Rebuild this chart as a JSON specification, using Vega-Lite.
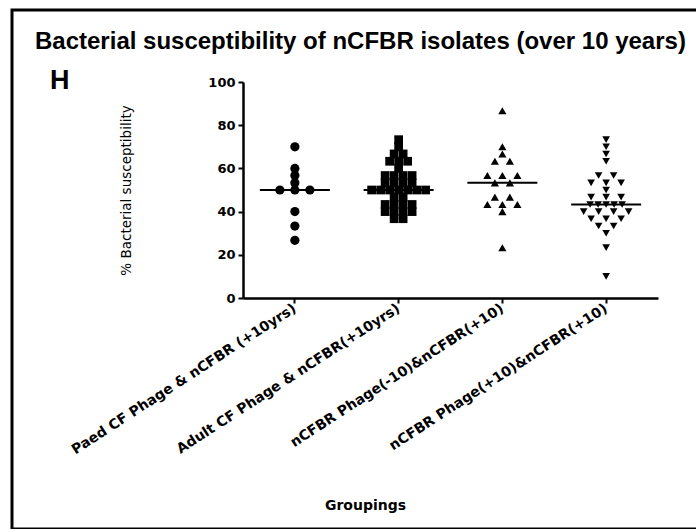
{
  "$schema": "https://vega.github.io/schema/vega-lite/v6.json",
  "autosize": "none",
  "padding": {"left": 12, "top": 10, "right": 0, "bottom": 0},
  "width": 700,
  "height": 519,
  "background": "white",
  "title": {
    "text": "Bacterial susceptibility of nCFBR isolates (over 10 years)",
    "subtitle": "\u200b\u00a0\u00a0H",
    "anchor": "start",
    "frame": "group",
    "dx": 23,
    "offset": -84,
    "font": "Liberation Sans",
    "fontSize": 24,
    "fontWeight": "bold",
    "color": "black",
    "subtitleFont": "Liberation Sans",
    "subtitleFontSize": 27,
    "subtitleFontWeight": "bold",
    "subtitleColor": "black",
    "subtitlePadding": 14
  },
  "config": {
    "view": {"stroke": "black", "strokeWidth": 3},
    "axis": {
      "domainColor": "black",
      "domainWidth": 2.5,
      "tickColor": "black",
      "tickWidth": 2,
      "tickSize": 5,
      "labelColor": "black",
      "titleColor": "black",
      "grid": false
    }
  },
  "data": {
    "values": [
      {"group": "Paed CF Phage & nCFBR (+10yrs)", "value": 70},
      {"group": "Paed CF Phage & nCFBR (+10yrs)", "value": 60},
      {"group": "Paed CF Phage & nCFBR (+10yrs)", "value": 56.7},
      {"group": "Paed CF Phage & nCFBR (+10yrs)", "value": 53.3},
      {"group": "Paed CF Phage & nCFBR (+10yrs)", "value": 50},
      {"group": "Paed CF Phage & nCFBR (+10yrs)", "value": 50},
      {"group": "Paed CF Phage & nCFBR (+10yrs)", "value": 50},
      {"group": "Paed CF Phage & nCFBR (+10yrs)", "value": 40},
      {"group": "Paed CF Phage & nCFBR (+10yrs)", "value": 33.3},
      {"group": "Paed CF Phage & nCFBR (+10yrs)", "value": 26.7},

      {"group": "Adult CF Phage & nCFBR(+10yrs)", "value": 73.3},
      {"group": "Adult CF Phage & nCFBR(+10yrs)", "value": 70},
      {"group": "Adult CF Phage & nCFBR(+10yrs)", "value": 66.7},
      {"group": "Adult CF Phage & nCFBR(+10yrs)", "value": 66.7},
      {"group": "Adult CF Phage & nCFBR(+10yrs)", "value": 63.3},
      {"group": "Adult CF Phage & nCFBR(+10yrs)", "value": 63.3},
      {"group": "Adult CF Phage & nCFBR(+10yrs)", "value": 63.3},
      {"group": "Adult CF Phage & nCFBR(+10yrs)", "value": 60},
      {"group": "Adult CF Phage & nCFBR(+10yrs)", "value": 56.7},
      {"group": "Adult CF Phage & nCFBR(+10yrs)", "value": 56.7},
      {"group": "Adult CF Phage & nCFBR(+10yrs)", "value": 56.7},
      {"group": "Adult CF Phage & nCFBR(+10yrs)", "value": 56.7},
      {"group": "Adult CF Phage & nCFBR(+10yrs)", "value": 53.3},
      {"group": "Adult CF Phage & nCFBR(+10yrs)", "value": 53.3},
      {"group": "Adult CF Phage & nCFBR(+10yrs)", "value": 53.3},
      {"group": "Adult CF Phage & nCFBR(+10yrs)", "value": 53.3},
      {"group": "Adult CF Phage & nCFBR(+10yrs)", "value": 50},
      {"group": "Adult CF Phage & nCFBR(+10yrs)", "value": 50},
      {"group": "Adult CF Phage & nCFBR(+10yrs)", "value": 50},
      {"group": "Adult CF Phage & nCFBR(+10yrs)", "value": 50},
      {"group": "Adult CF Phage & nCFBR(+10yrs)", "value": 50},
      {"group": "Adult CF Phage & nCFBR(+10yrs)", "value": 50},
      {"group": "Adult CF Phage & nCFBR(+10yrs)", "value": 50},
      {"group": "Adult CF Phage & nCFBR(+10yrs)", "value": 46.7},
      {"group": "Adult CF Phage & nCFBR(+10yrs)", "value": 46.7},
      {"group": "Adult CF Phage & nCFBR(+10yrs)", "value": 43.3},
      {"group": "Adult CF Phage & nCFBR(+10yrs)", "value": 43.3},
      {"group": "Adult CF Phage & nCFBR(+10yrs)", "value": 43.3},
      {"group": "Adult CF Phage & nCFBR(+10yrs)", "value": 43.3},
      {"group": "Adult CF Phage & nCFBR(+10yrs)", "value": 40},
      {"group": "Adult CF Phage & nCFBR(+10yrs)", "value": 40},
      {"group": "Adult CF Phage & nCFBR(+10yrs)", "value": 40},
      {"group": "Adult CF Phage & nCFBR(+10yrs)", "value": 40},
      {"group": "Adult CF Phage & nCFBR(+10yrs)", "value": 36.7},
      {"group": "Adult CF Phage & nCFBR(+10yrs)", "value": 36.7},

      {"group": "nCFBR Phage(-10)&nCFBR(+10)", "value": 86.7},
      {"group": "nCFBR Phage(-10)&nCFBR(+10)", "value": 70},
      {"group": "nCFBR Phage(-10)&nCFBR(+10)", "value": 66.7},
      {"group": "nCFBR Phage(-10)&nCFBR(+10)", "value": 63.3},
      {"group": "nCFBR Phage(-10)&nCFBR(+10)", "value": 63.3},
      {"group": "nCFBR Phage(-10)&nCFBR(+10)", "value": 56.7},
      {"group": "nCFBR Phage(-10)&nCFBR(+10)", "value": 56.7},
      {"group": "nCFBR Phage(-10)&nCFBR(+10)", "value": 56.7},
      {"group": "nCFBR Phage(-10)&nCFBR(+10)", "value": 53.3},
      {"group": "nCFBR Phage(-10)&nCFBR(+10)", "value": 53.3},
      {"group": "nCFBR Phage(-10)&nCFBR(+10)", "value": 46.7},
      {"group": "nCFBR Phage(-10)&nCFBR(+10)", "value": 46.7},
      {"group": "nCFBR Phage(-10)&nCFBR(+10)", "value": 43.3},
      {"group": "nCFBR Phage(-10)&nCFBR(+10)", "value": 43.3},
      {"group": "nCFBR Phage(-10)&nCFBR(+10)", "value": 43.3},
      {"group": "nCFBR Phage(-10)&nCFBR(+10)", "value": 40},
      {"group": "nCFBR Phage(-10)&nCFBR(+10)", "value": 23.3},

      {"group": "nCFBR Phage(+10)&nCFBR(+10)", "value": 73.3},
      {"group": "nCFBR Phage(+10)&nCFBR(+10)", "value": 70},
      {"group": "nCFBR Phage(+10)&nCFBR(+10)", "value": 66.7},
      {"group": "nCFBR Phage(+10)&nCFBR(+10)", "value": 63.3},
      {"group": "nCFBR Phage(+10)&nCFBR(+10)", "value": 56.7},
      {"group": "nCFBR Phage(+10)&nCFBR(+10)", "value": 56.7},
      {"group": "nCFBR Phage(+10)&nCFBR(+10)", "value": 53.3},
      {"group": "nCFBR Phage(+10)&nCFBR(+10)", "value": 53.3},
      {"group": "nCFBR Phage(+10)&nCFBR(+10)", "value": 53.3},
      {"group": "nCFBR Phage(+10)&nCFBR(+10)", "value": 50},
      {"group": "nCFBR Phage(+10)&nCFBR(+10)", "value": 46.7},
      {"group": "nCFBR Phage(+10)&nCFBR(+10)", "value": 46.7},
      {"group": "nCFBR Phage(+10)&nCFBR(+10)", "value": 46.7},
      {"group": "nCFBR Phage(+10)&nCFBR(+10)", "value": 43.3},
      {"group": "nCFBR Phage(+10)&nCFBR(+10)", "value": 43.3},
      {"group": "nCFBR Phage(+10)&nCFBR(+10)", "value": 43.3},
      {"group": "nCFBR Phage(+10)&nCFBR(+10)", "value": 43.3},
      {"group": "nCFBR Phage(+10)&nCFBR(+10)", "value": 43.3},
      {"group": "nCFBR Phage(+10)&nCFBR(+10)", "value": 40},
      {"group": "nCFBR Phage(+10)&nCFBR(+10)", "value": 40},
      {"group": "nCFBR Phage(+10)&nCFBR(+10)", "value": 40},
      {"group": "nCFBR Phage(+10)&nCFBR(+10)", "value": 40},
      {"group": "nCFBR Phage(+10)&nCFBR(+10)", "value": 36.7},
      {"group": "nCFBR Phage(+10)&nCFBR(+10)", "value": 36.7},
      {"group": "nCFBR Phage(+10)&nCFBR(+10)", "value": 36.7},
      {"group": "nCFBR Phage(+10)&nCFBR(+10)", "value": 33.3},
      {"group": "nCFBR Phage(+10)&nCFBR(+10)", "value": 33.3},
      {"group": "nCFBR Phage(+10)&nCFBR(+10)", "value": 30},
      {"group": "nCFBR Phage(+10)&nCFBR(+10)", "value": 23.3},
      {"group": "nCFBR Phage(+10)&nCFBR(+10)", "value": 10}
    ]
  },
  "layer": [
    {
      "transform": [
        {"window": [{"op": "row_number", "as": "r"}, {"op": "count", "as": "n"}], "groupby": ["group", "value"], "frame": [null, null]},
        {"calculate": "(datum.r - (datum.n + 1) / 2) * (datum.group == 'Adult CF Phage & nCFBR(+10yrs)' ? 9 : (datum.n >= 5 ? 8 : 15))", "as": "off"}
      ],
      "mark": {"type": "point", "filled": true, "opacity": 1, "color": "black", "strokeWidth": 0},
      "encoding": {
        "x": {
          "field": "group",
          "type": "nominal",
          "sort": ["Paed CF Phage & nCFBR (+10yrs)", "Adult CF Phage & nCFBR(+10yrs)", "nCFBR Phage(-10)&nCFBR(+10)", "nCFBR Phage(+10)&nCFBR(+10)"],
          "scale": {"type": "band", "range": [231, 646], "paddingInner": 0, "paddingOuter": 0},
          "axis": {
            "orient": "bottom",
            "offset": -231,
            "title": "Groupings",
            "titleFont": "DejaVu Sans",
            "titleFontSize": 14,
            "titleFontWeight": "bold",
            "titleX": 353,
            "titleY": 200,
            "titleAlign": "center",
            "titleBaseline": "top",
            "labelAngle": -33,
            "labelAlign": "right",
            "labelBaseline": "middle",
            "labelFont": "DejaVu Sans",
            "labelFontSize": 14,
            "labelFontWeight": "bold",
            "labelPadding": 4,
            "labelLimit": 400
          }
        },
        "xOffset": {"field": "off", "type": "quantitative", "scale": {"domain": [-51.875, 51.875]}},
        "y": {
          "field": "value",
          "type": "quantitative",
          "scale": {"domain": [0, 100], "range": [288, 72], "nice": false},
          "axis": {
            "orient": "left",
            "offset": -231,
            "values": [0, 20, 40, 60, 80, 100],
            "title": "% Bacterial susceptibility",
            "titleFont": "DejaVu Sans",
            "titleFontSize": 13.5,
            "titleFontWeight": "normal",
            "titlePadding": 74,
            "labelFont": "DejaVu Sans",
            "labelFontSize": 13,
            "labelFontWeight": "bold",
            "labelPadding": 3
          }
        },
        "shape": {
          "field": "group",
          "type": "nominal",
          "scale": {
            "domain": ["Paed CF Phage & nCFBR (+10yrs)", "Adult CF Phage & nCFBR(+10yrs)", "nCFBR Phage(-10)&nCFBR(+10)", "nCFBR Phage(+10)&nCFBR(+10)"],
            "range": ["circle", "square", "triangle-up", "triangle-down"]
          },
          "legend": null
        },
        "size": {
          "field": "group",
          "type": "ordinal",
          "scale": {
            "domain": ["Paed CF Phage & nCFBR (+10yrs)", "Adult CF Phage & nCFBR(+10yrs)", "nCFBR Phage(-10)&nCFBR(+10)", "nCFBR Phage(+10)&nCFBR(+10)"],
            "range": [85, 58, 120, 120]
          },
          "legend": null
        }
      }
    },
    {
      "mark": {"type": "tick", "color": "black", "thickness": 2, "size": 70, "opacity": 1},
      "encoding": {
        "x": {"field": "group", "type": "nominal", "sort": ["Paed CF Phage & nCFBR (+10yrs)", "Adult CF Phage & nCFBR(+10yrs)", "nCFBR Phage(-10)&nCFBR(+10)", "nCFBR Phage(+10)&nCFBR(+10)"]},
        "y": {"aggregate": "median", "field": "value", "type": "quantitative"}
      }
    }
  ]
}
